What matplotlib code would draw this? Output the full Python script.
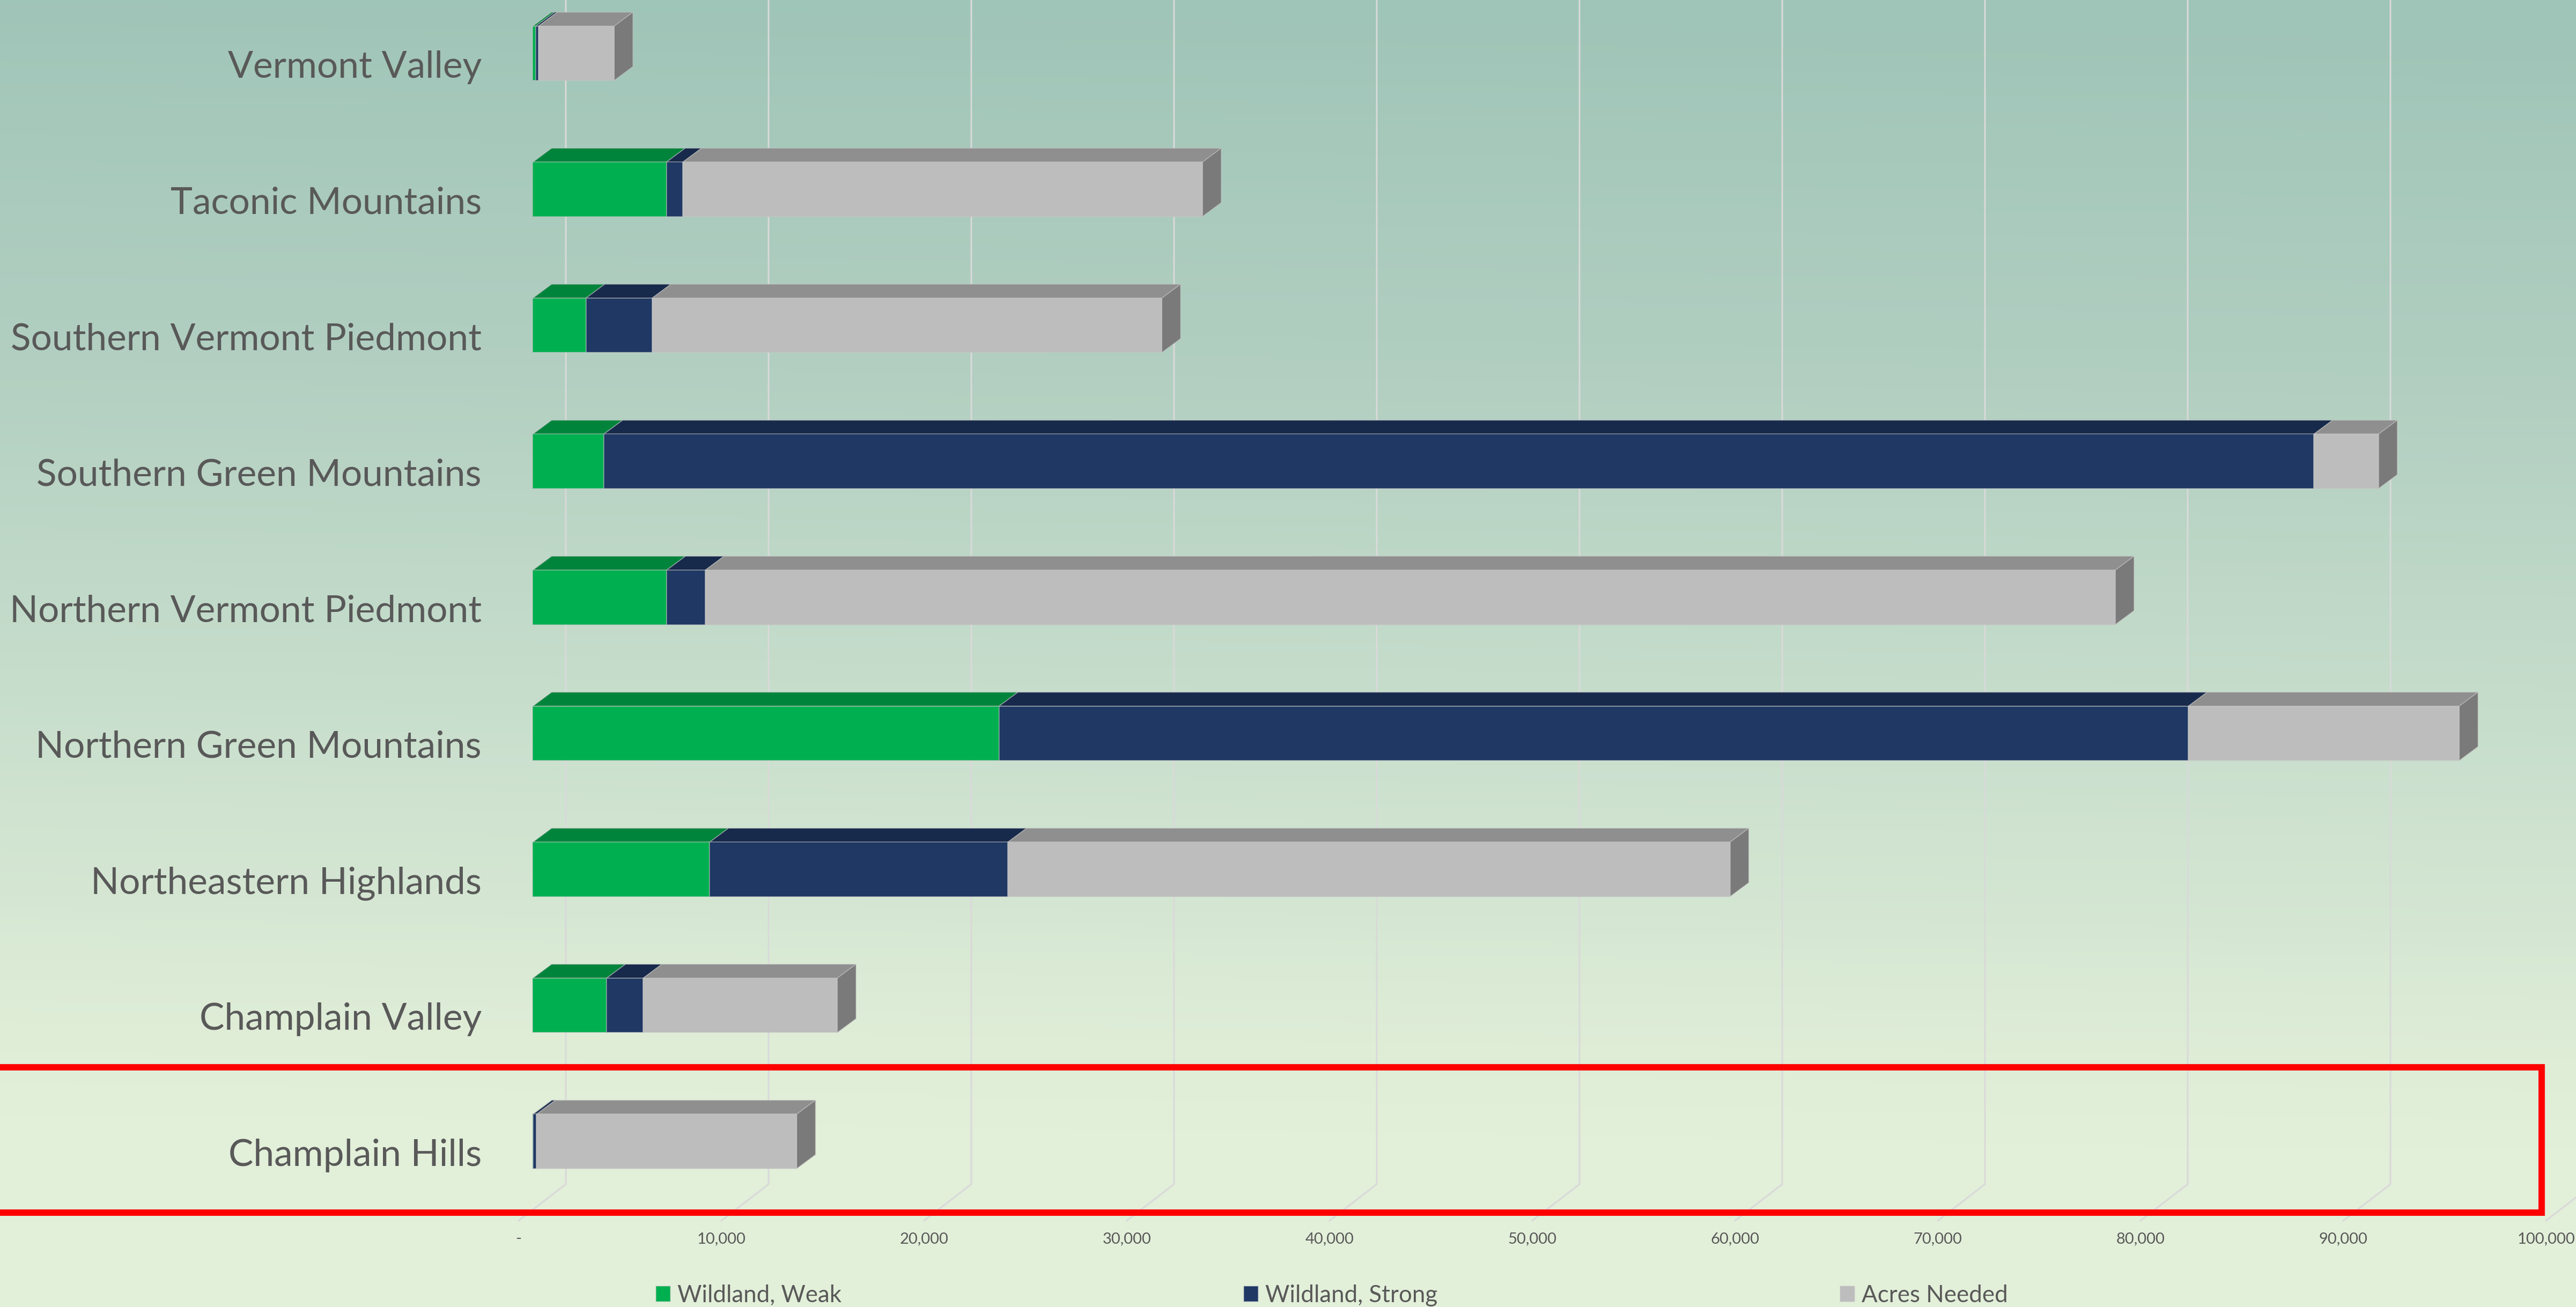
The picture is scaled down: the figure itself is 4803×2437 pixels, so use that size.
import numpy as np
import matplotlib
matplotlib.use('Agg')
import matplotlib.pyplot as plt
from matplotlib.colors import LinearSegmentedColormap
from matplotlib.patches import Polygon, Rectangle

plt.rcParams['font.family'] = ['Lato', 'DejaVu Sans']

# bottom to top, as the bars are stacked on the y axis
regions = ['Champlain Hills', 'Champlain Valley', 'Northeastern Highlands',
           'Northern Green Mountains', 'Northern Vermont Piedmont',
           'Southern Green Mountains', 'Southern Vermont Piedmont',
           'Taconic Mountains', 'Vermont Valley']
wildland_weak = [20, 3640, 8720, 23000, 6600, 3500, 2620, 6590, 145]
wildland_strong = [165, 1800, 14710, 58660, 1905, 84350, 3265, 805, 135]
acres_needed = [12830, 9575, 35620, 13360, 69550, 3190, 25140, 25635, 3730]
axis_ticks = [0, 10000, 20000, 30000, 40000, 50000, 60000, 70000, 80000, 90000, 100000]

W, H = 4803, 2437
DPI = 100
PX = 72 / DPI  # points per pixel

ACRES_PER_PX = 10000 / 378
CAT_PX = 253.6
ZERO_X = 993.5   # pixel of 0 acres on the bar front
CAT0_Y = 2128.2  # pixel of the first bar's centre

BAR_H = 0.4
DEPTH_X = 35 * ACRES_PER_PX
DEPTH_Y = 26 / CAT_PX
BACK_X = 61.5 * ACRES_PER_PX
FRONT_X = -26.5 * ACRES_PER_PX
WALL_Y = (CAT0_Y - 2208) / CAT_PX
FLOOR_Y = (CAT0_Y - 2276) / CAT_PX

TEXT = '#595959'
EDGE = (0.78, 0.78, 0.78, 0.55)

fig = plt.figure(figsize=(W / DPI, H / DPI), dpi=DPI)
ax = fig.add_axes([0, 0, 1, 1])
xlim = (-ZERO_X * ACRES_PER_PX, (W - ZERO_X) * ACRES_PER_PX)
ylim = ((CAT0_Y - H) / CAT_PX, CAT0_Y / CAT_PX)

# background gradient, very slightly tilted
gx, gy = np.meshgrid(np.linspace(0, 1, 400), np.linspace(0, 1, 400))
grad = np.clip(gy + (1 - gx) * 0.03 - 0.015, 0, 1)
cmap = LinearSegmentedColormap.from_list('bg', [(0, '#9FC5B8'), (0.287, '#B2CFC1'), (0.70, '#D5E7D3'),
                                                (0.80, '#DFEDD7'), (0.87, '#E2EFD9'), (1, '#E2EFD9')])
ax.imshow(grad, cmap=cmap, vmin=0, vmax=1, extent=(*xlim, ylim[0], ylim[1]),
          origin='upper', aspect='auto', zorder=0)

# bent gridlines: back wall, then across the floor
for v in axis_ticks:
    ax.plot([v + BACK_X, v + BACK_X, v + FRONT_X], [ylim[1], WALL_Y, FLOOR_Y],
            color='#D9D9D9', lw=3 * PX, zorder=1, solid_joinstyle='miter')

y = np.arange(len(regions))
series = [('Wildland, Weak', wildland_weak, '#00B050', '#00843C'),
          ('Wildland, Strong', wildland_strong, '#1F3864', '#172A4B'),
          ('Acres Needed', acres_needed, '#BDBDBD', '#8F8F8F')]

left = np.zeros(len(regions))
handles = []
for label, values, front, top in series:
    values = np.array(values)
    for yi, l, v in zip(y, left, values):
        pts = [(l, yi + BAR_H / 2), (l + v, yi + BAR_H / 2),
               (l + v + DEPTH_X, yi + BAR_H / 2 + DEPTH_Y), (l + DEPTH_X, yi + BAR_H / 2 + DEPTH_Y)]
        ax.add_patch(Polygon(pts, facecolor=top, edgecolor=EDGE, lw=1.5 * PX, zorder=2))
    bars = ax.barh(y, values, BAR_H, left=left, color=front, edgecolor=EDGE,
                   linewidth=1.5 * PX, label=label, zorder=3)
    handles.append(bars)
    left = left + values

# end face of the whole stack
for yi, total in zip(y, left):
    pts = [(total, yi - BAR_H / 2), (total + DEPTH_X, yi - BAR_H / 2 + DEPTH_Y),
           (total + DEPTH_X, yi + BAR_H / 2 + DEPTH_Y), (total, yi + BAR_H / 2)]
    ax.add_patch(Polygon(pts, facecolor='#7A7A7A', edgecolor=EDGE, lw=1.5 * PX, zorder=2))

ax.set_xlim(xlim)
ax.set_ylim(ylim)

# tick labels sit inside the full-figure axes, so the pads are negative
ax.set_yticks(y - 20 / CAT_PX)
ax.set_yticklabels(regions)
ax.set_xticks(np.array(axis_ticks) + FRONT_X)
ax.set_xticklabels(['-' if v == 0 else f'{v:,}' for v in axis_ticks])
ax.tick_params(axis='y', length=0, labelsize=50, labelcolor=TEXT, pad=-898 * PX)
ax.tick_params(axis='x', length=0, labelsize=21, labelcolor=TEXT, pad=-140 * PX)
for side in ax.spines.values():
    side.set_visible(False)

ax.legend(handles, [s[0] for s in series], loc='lower left',
          bbox_to_anchor=(1223 / W, 1 - 2436 / H), bbox_transform=fig.transFigure,
          ncol=3, frameon=False, fontsize=31.6, labelcolor=TEXT, borderpad=0, borderaxespad=0,
          handlelength=0.615, handleheight=0.615, handletextpad=0.296, columnspacing=17.1)

# red highlight box around the last row
fig.add_artist(Rectangle((-3 / W, 1 - 2261 / H), 4742 / W, 271 / H, transform=fig.transFigure,
                         fill=False, edgecolor='#FF0000', lw=12 * PX, joinstyle='miter'))

fig.savefig('out.png', dpi=DPI)
